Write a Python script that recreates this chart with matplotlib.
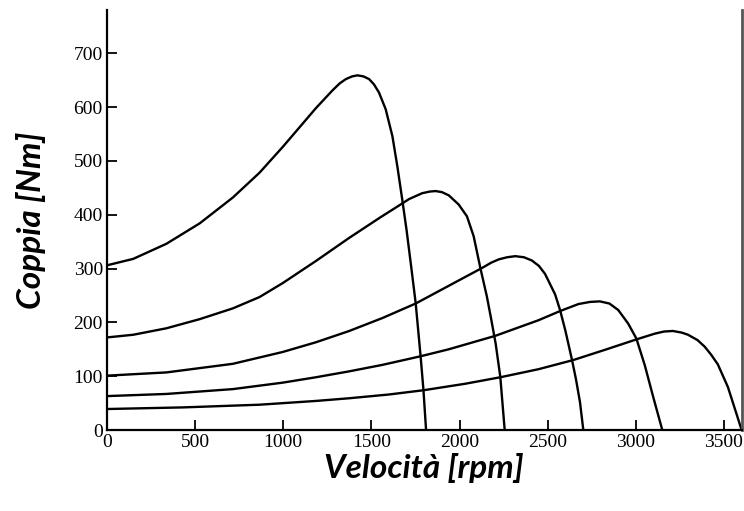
import matplotlib
matplotlib.use("Agg")
import matplotlib.pyplot as plt

# speed (rpm) / torque (Nm) points, one pair per curve
rpm_1 = [0, 149, 337, 526, 714, 865, 997, 1091, 1185, 1279, 1320, 1355, 1390, 1421,
         1455, 1487, 1515, 1543, 1581, 1619, 1647, 1675, 1700, 1725, 1751, 1779,
         1795, 1810]
torque_1 = [306, 318, 346, 384, 432, 478, 526, 562, 598, 631, 644, 652, 657, 659,
            657, 652, 642, 627, 596, 546, 490, 428, 370, 305, 236, 137,
            75, 0]

rpm_2 = [0, 149, 337, 526, 714, 865, 997, 1185, 1374, 1550, 1656, 1713, 1788, 1830,
         1864, 1900, 1939, 1995, 2042, 2080, 2118, 2155, 2180, 2205, 2231, 2256]
torque_2 = [172, 177, 189, 206, 226, 247, 273, 314, 357, 395, 417, 429, 440, 443,
            444, 442, 436, 419, 397, 360, 301, 248, 205, 160, 99, 0]

rpm_3 = [0, 337, 714, 997, 1185, 1374, 1562, 1751, 1939, 2127, 2180, 2222, 2270,
         2316, 2365, 2410, 2450, 2485, 2542, 2570, 2600, 2636, 2660, 2683, 2702]
torque_3 = [101, 107, 123, 145, 163, 184, 208, 235, 268, 301, 311, 317, 321,
            323, 321, 315, 305, 290, 252, 223, 185, 133, 95, 52, 0]

rpm_4 = [0, 337, 714, 997, 1185, 1374, 1562, 1779, 1939, 2203, 2448, 2570, 2674,
         2740, 2796, 2850, 2900, 2956, 3003, 3051, 3098, 3150]
torque_4 = [63, 67, 76, 88, 98, 109, 121, 137, 150, 175, 204, 221, 234,
            238, 239, 235, 223, 198, 170, 120, 62, 0]

rpm_5 = [0, 431, 865, 1185, 1374, 1600, 1798, 2033, 2231, 2448, 2645, 2825, 3000,
         3107, 3160, 3210, 3260, 3296, 3350, 3390, 3427, 3465, 3522, 3569, 3600]
torque_5 = [39, 42, 47, 54, 59, 66, 74, 86, 98, 113, 130, 149, 168,
            179, 183, 184, 181, 177, 167, 155, 140, 122, 80, 32, 0]

x_ticks = [0, 500, 1000, 1500, 2000, 2500, 3000, 3500]
y_ticks = [0, 100, 200, 300, 400, 500, 600, 700]

fig = plt.figure(figsize=(7.44, 5.11), dpi=100)
ax = fig.add_axes([0.1438, 0.1585, 0.853, 0.8215])

curves = [(rpm_1, torque_1), (rpm_2, torque_2), (rpm_3, torque_3),
          (rpm_4, torque_4), (rpm_5, torque_5)]
for rpm, torque in curves:
    ax.plot(rpm, torque, color='black', linewidth=1.7, solid_joinstyle='round',
            solid_capstyle='round')

ax.set_xlim(0, 3600)
ax.set_ylim(0, 780)
ax.set_xticks(x_ticks)
ax.set_yticks(y_ticks)

tick_font = {'family': 'Liberation Serif', 'size': 14}
ax.set_xticklabels([str(t) for t in x_ticks], fontdict=tick_font)
ax.set_yticklabels([str(t) for t in y_ticks], fontdict=tick_font)
ax.tick_params(axis='both', direction='in', length=7, width=1.3, pad=3)

ax.spines['top'].set_visible(False)
ax.spines['left'].set_linewidth(1.6)
ax.spines['bottom'].set_linewidth(1.6)
ax.spines['right'].set_linewidth(2)
ax.spines['right'].set_color('#555555')

label_font = {'family': 'Lato', 'size': 24, 'weight': 'bold', 'style': 'italic'}
ax.set_xlabel('Velocità [rpm]', fontdict=label_font, labelpad=1)
ax.set_ylabel('Coppia [Nm]', fontdict=label_font, labelpad=20)

fig.savefig('out.png', dpi=100)
